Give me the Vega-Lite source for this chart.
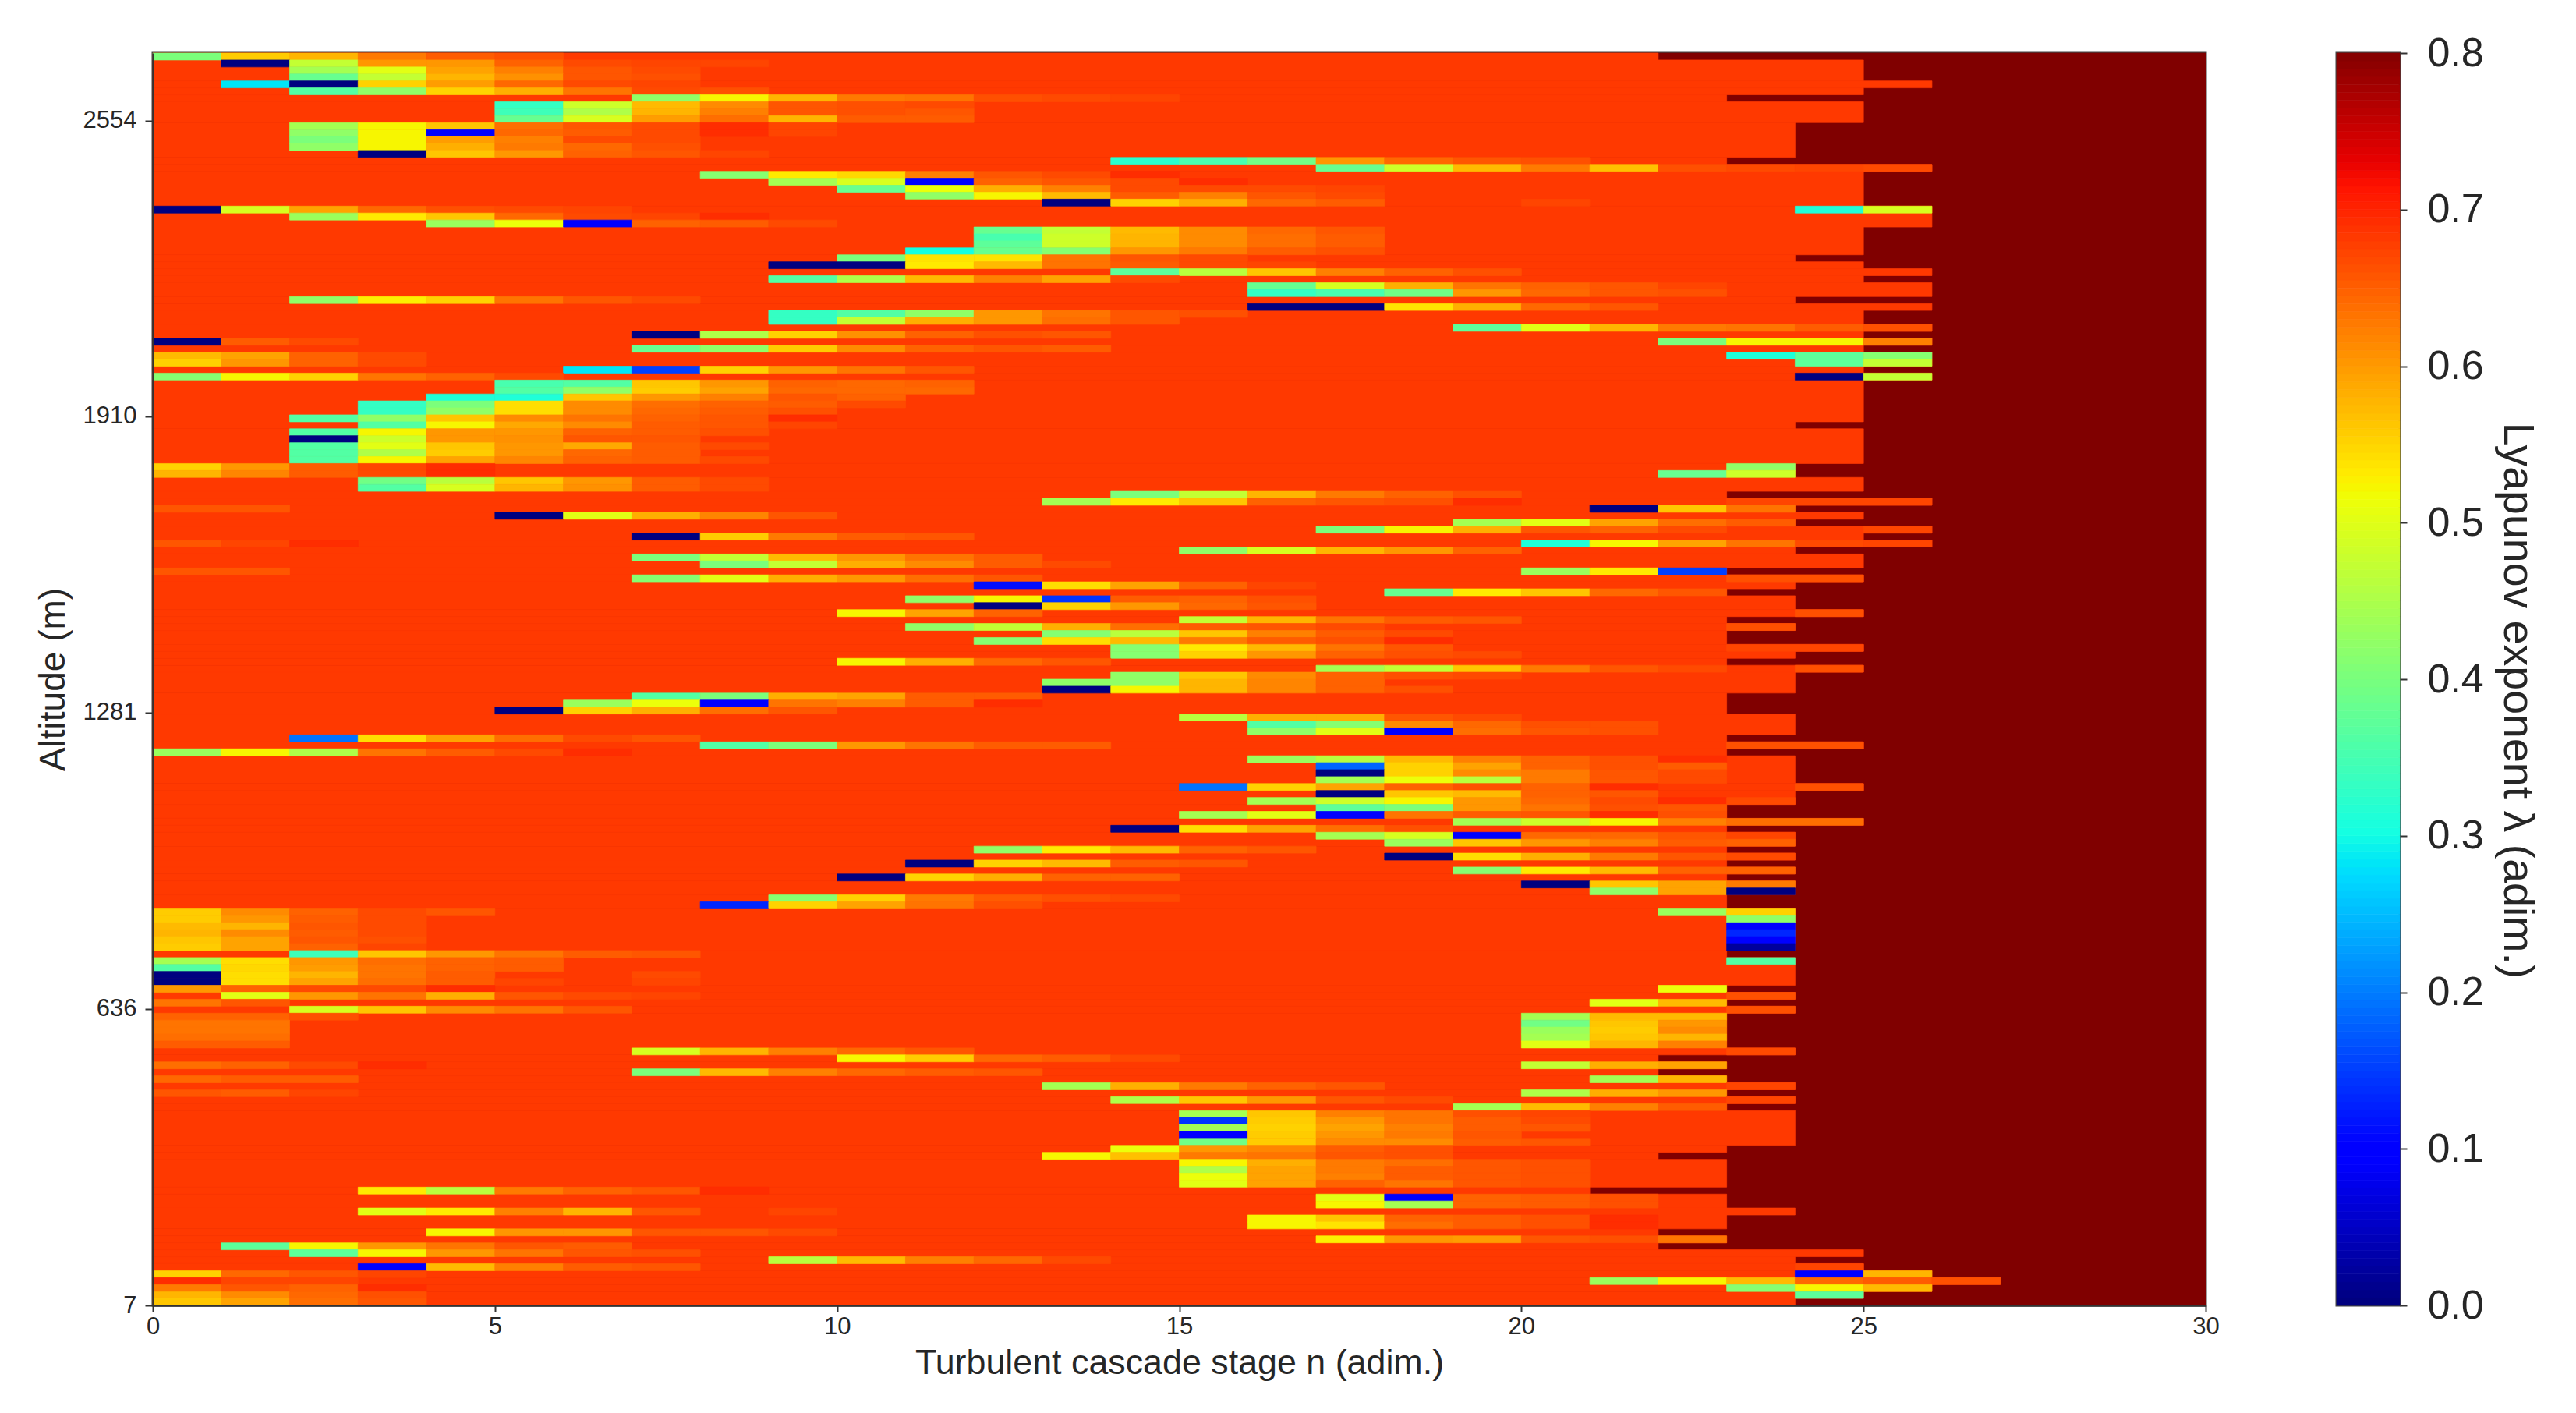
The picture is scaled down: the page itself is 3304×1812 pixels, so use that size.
{"$schema":"https://vega.github.io/schema/vega-lite/v6.json","background":"white","padding":{"left":43,"top":40,"right":0,"bottom":0},"bounds":"flush","spacing":168,"config":{"font":"Liberation Sans","view":{"stroke":"#444","strokeWidth":3},"axis":{"labelColor":"#262626","titleColor":"#262626","tickColor":"#333","domainColor":"#333","tickWidth":2,"domainWidth":2.5,"grid":false,"labelFont":"Liberation Sans","titleFont":"Liberation Sans","titleFontWeight":"normal"}},"hconcat":[{"width":2633,"height":1606,"data":{"values":[
{"l":0,"h":180,"n":0,"m":30,"v":0.8},
{"l":0,"n":0,"m":22,"v":0.68},{"l":1,"h":3,"n":0,"m":25,"v":0.68},{"l":4,"n":0,"m":26,"v":0.68},{"l":5,"n":0,"m":25,"v":0.68},{"l":6,"n":0,"m":23,"v":0.68},{"l":7,"h":3,"n":0,"m":25,"v":0.68},{"l":10,"h":5,"n":0,"m":24,"v":0.68},{"l":15,"n":0,"m":23,"v":0.68},{"l":16,"n":0,"m":26,"v":0.68},{"l":17,"h":5,"n":0,"m":25,"v":0.68},{"l":22,"h":3,"n":0,"m":26,"v":0.68},{"l":25,"h":4,"n":0,"m":25,"v":0.68},{"l":29,"n":0,"m":24,"v":0.68},{"l":30,"n":0,"m":25,"v":0.68},{"l":31,"n":0,"m":26,"v":0.68},{"l":32,"n":0,"m":25,"v":0.68},{"l":33,"h":2,"n":0,"m":26,"v":0.68},{"l":35,"n":0,"m":24,"v":0.68},{"l":36,"n":0,"m":26,"v":0.68},{"l":37,"h":2,"n":0,"m":25,"v":0.68},{"l":39,"n":0,"m":26,"v":0.68},{"l":40,"n":0,"m":25,"v":0.68},{"l":41,"n":0,"m":26,"v":0.68},{"l":42,"n":0,"m":25,"v":0.68},{"l":43,"h":2,"n":0,"m":26,"v":0.68},{"l":45,"n":0,"m":25,"v":0.68},{"l":46,"n":0,"m":26,"v":0.68},{"l":47,"h":6,"n":0,"m":25,"v":0.68},{"l":53,"n":0,"m":24,"v":0.68},{"l":54,"h":5,"n":0,"m":25,"v":0.68},{"l":59,"h":2,"n":0,"m":24,"v":0.68},{"l":61,"h":2,"n":0,"m":25,"v":0.68},{"l":63,"n":0,"m":23,"v":0.68},{"l":64,"n":0,"m":26,"v":0.68},{"l":65,"n":0,"m":24,"v":0.68},{"l":66,"n":0,"m":25,"v":0.68},{"l":67,"n":0,"m":24,"v":0.68},{"l":68,"n":0,"m":26,"v":0.68},{"l":69,"n":0,"m":25,"v":0.68},{"l":70,"n":0,"m":26,"v":0.68},{"l":71,"n":0,"m":24,"v":0.68},{"l":72,"h":2,"n":0,"m":25,"v":0.68},{"l":74,"n":0,"m":23,"v":0.68},{"l":75,"n":0,"m":25,"v":0.68},{"l":76,"n":0,"m":24,"v":0.68},{"l":77,"n":0,"m":23,"v":0.68},{"l":78,"h":2,"n":0,"m":24,"v":0.68},{"l":80,"n":0,"m":25,"v":0.68},{"l":81,"n":0,"m":23,"v":0.68},{"l":82,"n":0,"m":24,"v":0.68},{"l":83,"h":2,"n":0,"m":23,"v":0.68},{"l":85,"n":0,"m":25,"v":0.68},{"l":86,"n":0,"m":24,"v":0.68},{"l":87,"n":0,"m":23,"v":0.68},{"l":88,"n":0,"m":25,"v":0.68},{"l":89,"h":3,"n":0,"m":24,"v":0.68},{"l":92,"h":3,"n":0,"m":23,"v":0.68},{"l":95,"h":3,"n":0,"m":24,"v":0.68},{"l":98,"n":0,"m":23,"v":0.68},{"l":99,"n":0,"m":25,"v":0.68},{"l":100,"n":0,"m":23,"v":0.68},{"l":101,"h":4,"n":0,"m":24,"v":0.68},{"l":105,"n":0,"m":25,"v":0.68},{"l":106,"h":2,"n":0,"m":24,"v":0.68},{"l":108,"h":2,"n":0,"m":23,"v":0.68},{"l":110,"n":0,"m":25,"v":0.68},{"l":111,"n":0,"m":23,"v":0.68},{"l":112,"h":2,"n":0,"m":24,"v":0.68},{"l":114,"n":0,"m":23,"v":0.68},{"l":115,"n":0,"m":24,"v":0.68},{"l":116,"n":0,"m":23,"v":0.68},{"l":117,"n":0,"m":24,"v":0.68},{"l":118,"n":0,"m":23,"v":0.68},{"l":119,"h":2,"n":0,"m":24,"v":0.68},{"l":121,"h":2,"n":0,"m":23,"v":0.68},{"l":123,"h":6,"n":0,"m":24,"v":0.68},{"l":129,"n":0,"m":23,"v":0.68},{"l":130,"h":4,"n":0,"m":24,"v":0.68},{"l":134,"n":0,"m":23,"v":0.68},{"l":135,"n":0,"m":24,"v":0.68},{"l":136,"n":0,"m":23,"v":0.68},{"l":137,"n":0,"m":24,"v":0.68},{"l":138,"h":5,"n":0,"m":23,"v":0.68},{"l":143,"n":0,"m":24,"v":0.68},{"l":144,"n":0,"m":22,"v":0.68},{"l":145,"n":0,"m":23,"v":0.68},{"l":146,"n":0,"m":22,"v":0.68},{"l":147,"n":0,"m":23,"v":0.68},{"l":148,"n":0,"m":24,"v":0.68},{"l":149,"n":0,"m":23,"v":0.68},{"l":150,"n":0,"m":24,"v":0.68},{"l":151,"n":0,"m":23,"v":0.68},{"l":152,"h":5,"n":0,"m":24,"v":0.68},{"l":157,"n":0,"m":23,"v":0.68},{"l":158,"n":0,"m":22,"v":0.68},{"l":159,"h":4,"n":0,"m":23,"v":0.68},{"l":163,"n":0,"m":21,"v":0.68},{"l":164,"h":2,"n":0,"m":23,"v":0.68},{"l":166,"n":0,"m":24,"v":0.68},{"l":167,"h":2,"n":0,"m":23,"v":0.68},{"l":169,"n":0,"m":22,"v":0.68},{"l":170,"n":0,"m":23,"v":0.68},{"l":171,"n":0,"m":22,"v":0.68},{"l":172,"n":0,"m":25,"v":0.68},{"l":173,"n":0,"m":24,"v":0.68},{"l":174,"n":0,"m":25,"v":0.68},{"l":175,"n":0,"m":26,"v":0.68},{"l":176,"n":0,"m":27,"v":0.68},{"l":177,"n":0,"m":26,"v":0.68},{"l":178,"n":0,"m":25,"v":0.68},{"l":179,"n":0,"m":24,"v":0.68},
{"l":0,"n":0,"v":0.4},{"l":0,"n":1,"v":0.555},{"l":0,"n":2,"v":0.575},{"l":0,"n":3,"v":0.625},{"l":0,"n":4,"v":0.65},{"l":0,"n":5,"v":0.66},
{"l":1,"n":1,"v":0},{"l":1,"n":2,"v":0.47},{"l":1,"n":3,"v":0.6},{"l":1,"n":4,"v":0.6},{"l":1,"n":5,"v":0.645},{"l":1,"n":6,"v":0.665},{"l":1,"n":7,"v":0.67},{"l":1,"n":8,"v":0.67},
{"l":2,"n":2,"v":0.44},{"l":2,"n":3,"v":0.5},{"l":2,"n":4,"v":0.59},{"l":2,"n":5,"v":0.62},{"l":2,"n":6,"v":0.655},{"l":2,"n":7,"v":0.665},
{"l":3,"n":2,"v":0.38},{"l":3,"n":3,"v":0.47},{"l":3,"n":4,"v":0.575},{"l":3,"n":5,"v":0.605},{"l":3,"n":6,"v":0.655},{"l":3,"n":7,"v":0.66},
{"l":4,"n":1,"v":0.28},{"l":4,"n":2,"v":0},{"l":4,"n":3,"v":0.55},{"l":4,"n":4,"v":0.595},{"l":4,"n":5,"v":0.64},{"l":4,"n":6,"v":0.665},{"l":4,"n":7,"v":0.67},
{"l":5,"n":2,"v":0.36},{"l":5,"n":3,"v":0.42},{"l":5,"n":4,"v":0.55},{"l":5,"n":5,"v":0.58},{"l":5,"n":6,"v":0.63},{"l":5,"n":7,"v":0.665},{"l":5,"n":8,"v":0.66},
{"l":6,"n":7,"v":0.42},{"l":6,"n":8,"v":0.52},{"l":6,"n":9,"v":0.575},{"l":6,"n":10,"v":0.625},{"l":6,"n":11,"v":0.63},{"l":6,"n":12,"v":0.66},{"l":6,"n":13,"v":0.665},{"l":6,"n":14,"v":0.67},
{"l":7,"n":5,"v":0.33},{"l":7,"n":6,"v":0.48},{"l":7,"n":7,"v":0.57},{"l":7,"n":8,"v":0.61},{"l":7,"n":9,"v":0.655},{"l":7,"n":10,"v":0.66},{"l":7,"n":11,"v":0.665},
{"l":8,"n":5,"v":0.34},{"l":8,"n":6,"v":0.45},{"l":8,"n":7,"v":0.575},{"l":8,"n":8,"v":0.62},{"l":8,"n":9,"v":0.655},{"l":8,"n":10,"v":0.66},{"l":8,"n":11,"v":0.655},
{"l":9,"n":5,"v":0.38},{"l":9,"n":6,"v":0.49},{"l":9,"n":7,"v":0.595},{"l":9,"n":8,"v":0.635},{"l":9,"n":9,"v":0.575},{"l":9,"n":10,"v":0.65},{"l":9,"n":11,"v":0.65},
{"l":10,"n":2,"v":0.44},{"l":10,"n":3,"v":0.52},{"l":10,"n":4,"v":0.56},{"l":10,"n":5,"v":0.635},{"l":10,"n":6,"v":0.655},{"l":10,"n":7,"v":0.665},{"l":10,"n":8,"v":0.69},{"l":10,"n":9,"v":0.67},
{"l":11,"n":2,"v":0.42},{"l":11,"n":3,"v":0.52},{"l":11,"n":4,"v":0.09},{"l":11,"n":5,"v":0.64},{"l":11,"n":6,"v":0.65},{"l":11,"n":7,"v":0.665},{"l":11,"n":8,"v":0.69},{"l":11,"n":9,"v":0.67},
{"l":12,"n":2,"v":0.4},{"l":12,"n":3,"v":0.52},{"l":12,"n":4,"v":0.595},{"l":12,"n":5,"v":0.62},{"l":12,"n":6,"v":0.665},{"l":12,"n":7,"v":0.665},
{"l":13,"n":2,"v":0.42},{"l":13,"n":3,"v":0.52},{"l":13,"n":4,"v":0.58},{"l":13,"n":5,"v":0.625},{"l":13,"n":6,"v":0.64},{"l":13,"n":7,"v":0.66},
{"l":14,"n":3,"v":0},{"l":14,"n":4,"v":0.56},{"l":14,"n":5,"v":0.6},{"l":14,"n":6,"v":0.645},{"l":14,"n":7,"v":0.655},{"l":14,"n":8,"v":0.67},
{"l":15,"n":14,"v":0.32},{"l":15,"n":15,"v":0.35},{"l":15,"n":16,"v":0.39},{"l":15,"n":17,"v":0.6},{"l":15,"n":18,"v":0.64},{"l":15,"n":19,"v":0.655},{"l":15,"n":20,"v":0.66},
{"l":16,"n":17,"v":0.38},{"l":16,"n":18,"v":0.48},{"l":16,"n":19,"v":0.57},{"l":16,"n":20,"v":0.625},{"l":16,"n":21,"v":0.565},{"l":16,"n":22,"v":0.66},{"l":16,"n":23,"v":0.665},{"l":16,"n":24,"v":0.67},{"l":16,"n":25,"v":0.665},
{"l":17,"n":8,"v":0.41},{"l":17,"n":9,"v":0.53},{"l":17,"n":10,"v":0.545},{"l":17,"n":11,"v":0.62},{"l":17,"n":12,"v":0.655},{"l":17,"n":13,"v":0.665},{"l":17,"n":14,"v":0.69},
{"l":18,"n":9,"v":0.44},{"l":18,"n":10,"v":0.49},{"l":18,"n":11,"v":0.09},{"l":18,"n":12,"v":0.645},{"l":18,"n":13,"v":0.655},{"l":18,"n":14,"v":0.665},{"l":18,"n":15,"v":0.69},
{"l":19,"n":10,"v":0.38},{"l":19,"n":11,"v":0.51},{"l":19,"n":12,"v":0.58},{"l":19,"n":13,"v":0.62},{"l":19,"n":14,"v":0.665},{"l":19,"n":15,"v":0.665},{"l":19,"n":16,"v":0.665},{"l":19,"n":17,"v":0.67},
{"l":20,"n":11,"v":0.42},{"l":20,"n":12,"v":0.52},{"l":20,"n":13,"v":0.57},{"l":20,"n":14,"v":0.65},{"l":20,"n":15,"v":0.62},{"l":20,"n":16,"v":0.655},{"l":20,"n":17,"v":0.665},
{"l":21,"n":13,"v":0},{"l":21,"n":14,"v":0.55},{"l":21,"n":15,"v":0.58},{"l":21,"n":16,"v":0.64},{"l":21,"n":17,"v":0.65},{"l":21,"n":20,"v":0.67},
{"l":22,"n":0,"v":0},{"l":22,"n":1,"v":0.49},{"l":22,"n":2,"v":0.59},{"l":22,"n":3,"v":0.64},{"l":22,"n":4,"v":0.66},{"l":22,"n":5,"v":0.665},{"l":22,"n":6,"v":0.67},{"l":22,"n":24,"v":0.31},{"l":22,"n":25,"v":0.49},
{"l":23,"n":2,"v":0.43},{"l":23,"n":3,"v":0.53},{"l":23,"n":4,"v":0.56},{"l":23,"n":5,"v":0.64},{"l":23,"n":6,"v":0.665},{"l":23,"n":7,"v":0.67},{"l":23,"n":8,"v":0.69},
{"l":24,"n":4,"v":0.43},{"l":24,"n":5,"v":0.51},{"l":24,"n":6,"v":0.09},{"l":24,"n":7,"v":0.645},{"l":24,"n":8,"v":0.65},{"l":24,"n":9,"v":0.665},
{"l":25,"n":12,"v":0.38},{"l":25,"n":13,"v":0.47},{"l":25,"n":14,"v":0.57},{"l":25,"n":15,"v":0.61},{"l":25,"n":16,"v":0.64},{"l":25,"n":17,"v":0.655},
{"l":26,"n":12,"v":0.35},{"l":26,"n":13,"v":0.48},{"l":26,"n":14,"v":0.575},{"l":26,"n":15,"v":0.61},{"l":26,"n":16,"v":0.635},{"l":26,"n":17,"v":0.65},
{"l":27,"n":12,"v":0.37},{"l":27,"n":13,"v":0.48},{"l":27,"n":14,"v":0.575},{"l":27,"n":15,"v":0.61},{"l":27,"n":16,"v":0.635},{"l":27,"n":17,"v":0.65},
{"l":28,"n":11,"v":0.3},{"l":28,"n":12,"v":0.38},{"l":28,"n":13,"v":0.41},{"l":28,"n":14,"v":0.6},{"l":28,"n":15,"v":0.625},{"l":28,"n":16,"v":0.65},{"l":28,"n":17,"v":0.66},
{"l":29,"n":10,"v":0.4},{"l":29,"n":11,"v":0.535},{"l":29,"n":12,"v":0.535},{"l":29,"n":13,"v":0.63},{"l":29,"n":14,"v":0.655},{"l":29,"n":15,"v":0.665},
{"l":30,"n":9,"m":11,"v":0},{"l":30,"n":11,"v":0.53},{"l":30,"n":12,"v":0.57},{"l":30,"n":13,"v":0.63},{"l":30,"n":14,"v":0.65},{"l":30,"n":15,"v":0.665},{"l":30,"n":16,"v":0.67},
{"l":31,"n":14,"v":0.37},{"l":31,"n":15,"v":0.46},{"l":31,"n":16,"v":0.56},{"l":31,"n":17,"v":0.62},{"l":31,"n":18,"v":0.645},{"l":31,"n":19,"v":0.66},
{"l":32,"n":9,"v":0.36},{"l":32,"n":10,"v":0.45},{"l":32,"n":11,"v":0.57},{"l":32,"n":12,"v":0.62},{"l":32,"n":13,"v":0.59},{"l":32,"n":14,"v":0.665},
{"l":33,"n":16,"v":0.38},{"l":33,"n":17,"v":0.49},{"l":33,"n":18,"v":0.58},{"l":33,"n":19,"v":0.63},{"l":33,"n":20,"v":0.645},{"l":33,"n":21,"v":0.655},{"l":33,"n":22,"v":0.67},
{"l":34,"n":16,"v":0.33},{"l":34,"n":17,"v":0.35},{"l":34,"n":18,"v":0.39},{"l":34,"n":19,"v":0.6},{"l":34,"n":20,"v":0.64},{"l":34,"n":21,"v":0.655},{"l":34,"n":22,"v":0.66},
{"l":35,"n":2,"v":0.42},{"l":35,"n":3,"v":0.525},{"l":35,"n":4,"v":0.55},{"l":35,"n":5,"v":0.63},{"l":35,"n":6,"v":0.655},{"l":35,"n":7,"v":0.665},
{"l":36,"n":16,"m":18,"v":0},{"l":36,"n":18,"v":0.535},{"l":36,"n":19,"v":0.58},{"l":36,"n":20,"v":0.64},{"l":36,"n":21,"v":0.655},
{"l":37,"n":9,"v":0.33},{"l":37,"n":10,"v":0.36},{"l":37,"n":11,"v":0.42},{"l":37,"n":12,"v":0.6},{"l":37,"n":13,"v":0.63},{"l":37,"n":14,"v":0.655},{"l":37,"n":15,"v":0.66},
{"l":38,"n":9,"v":0.33},{"l":38,"n":10,"v":0.47},{"l":38,"n":11,"v":0.58},{"l":38,"n":12,"v":0.6},{"l":38,"n":13,"v":0.635},{"l":38,"n":14,"v":0.655},
{"l":39,"n":19,"v":0.37},{"l":39,"n":20,"v":0.5},{"l":39,"n":21,"v":0.575},{"l":39,"n":22,"v":0.625},{"l":39,"n":23,"v":0.63},{"l":39,"n":24,"v":0.65},{"l":39,"n":25,"v":0.66},
{"l":40,"n":7,"v":0},{"l":40,"n":8,"v":0.45},{"l":40,"n":9,"v":0.55},{"l":40,"n":10,"v":0.605},{"l":40,"n":11,"v":0.645},{"l":40,"n":12,"v":0.66},{"l":40,"n":13,"v":0.655},
{"l":41,"n":0,"v":0},{"l":41,"n":1,"v":0.65},{"l":41,"n":2,"v":0.665},{"l":41,"n":22,"v":0.4},{"l":41,"n":23,"m":25,"v":0.52},{"l":41,"n":25,"v":0.62},
{"l":42,"n":7,"v":0.38},{"l":42,"n":8,"v":0.42},{"l":42,"n":9,"v":0.555},{"l":42,"n":10,"v":0.61},{"l":42,"n":11,"v":0.645},{"l":42,"n":12,"v":0.655},{"l":42,"n":13,"v":0.65},
{"l":43,"n":0,"v":0.57},{"l":43,"n":1,"v":0.59},{"l":43,"n":2,"v":0.645},{"l":43,"n":3,"v":0.665},{"l":43,"n":23,"v":0.31},{"l":43,"n":24,"v":0.37},{"l":43,"n":25,"v":0.41},
{"l":44,"n":0,"v":0.55},{"l":44,"n":1,"v":0.6},{"l":44,"n":2,"v":0.645},{"l":44,"n":3,"v":0.665},{"l":44,"n":24,"v":0.37},{"l":44,"n":25,"v":0.47},
{"l":45,"n":6,"v":0.28},{"l":45,"n":7,"v":0.15},{"l":45,"n":8,"v":0.55},{"l":45,"n":9,"v":0.6},{"l":45,"n":10,"v":0.63},{"l":45,"n":11,"v":0.655},
{"l":46,"n":0,"v":0.41},{"l":46,"n":1,"v":0.52},{"l":46,"n":2,"v":0.55},{"l":46,"n":3,"v":0.63},{"l":46,"n":4,"v":0.645},{"l":46,"n":5,"v":0.665},{"l":46,"n":24,"v":0},{"l":46,"n":25,"v":0.47},
{"l":47,"n":5,"v":0.35},{"l":47,"n":6,"v":0.36},{"l":47,"n":7,"v":0.56},{"l":47,"n":8,"v":0.6},{"l":47,"n":9,"v":0.645},{"l":47,"n":10,"v":0.64},{"l":47,"n":11,"v":0.645},
{"l":48,"n":5,"v":0.36},{"l":48,"n":6,"v":0.42},{"l":48,"n":7,"v":0.555},{"l":48,"n":8,"v":0.59},{"l":48,"n":9,"v":0.64},{"l":48,"n":10,"v":0.64},{"l":48,"n":11,"v":0.64},
{"l":49,"n":4,"v":0.31},{"l":49,"n":5,"v":0.31},{"l":49,"n":6,"v":0.56},{"l":49,"n":7,"v":0.6},{"l":49,"n":8,"v":0.62},{"l":49,"n":9,"v":0.655},{"l":49,"n":10,"v":0.645},
{"l":50,"n":3,"v":0.33},{"l":50,"n":4,"v":0.4},{"l":50,"n":5,"v":0.54},{"l":50,"n":6,"v":0.61},{"l":50,"n":7,"v":0.635},{"l":50,"n":8,"v":0.645},{"l":50,"n":9,"v":0.65},{"l":50,"n":10,"v":0.665},
{"l":51,"n":3,"v":0.33},{"l":51,"n":4,"v":0.42},{"l":51,"n":5,"v":0.54},{"l":51,"n":6,"v":0.61},{"l":51,"n":7,"v":0.64},{"l":51,"n":8,"v":0.65},{"l":51,"n":9,"v":0.66},
{"l":52,"n":2,"v":0.36},{"l":52,"n":3,"v":0.42},{"l":52,"n":4,"v":0.56},{"l":52,"n":5,"v":0.61},{"l":52,"n":6,"v":0.63},{"l":52,"n":7,"v":0.645},{"l":52,"n":8,"v":0.655},{"l":52,"n":9,"v":0.69},
{"l":53,"n":3,"v":0.36},{"l":53,"n":4,"v":0.52},{"l":53,"n":5,"v":0.585},{"l":53,"n":6,"v":0.61},{"l":53,"n":7,"v":0.65},{"l":53,"n":8,"v":0.655},{"l":53,"n":9,"v":0.67},
{"l":54,"n":2,"v":0.36},{"l":54,"n":3,"v":0.52},{"l":54,"n":4,"v":0.6},{"l":54,"n":5,"v":0.6},{"l":54,"n":6,"v":0.645},{"l":54,"n":7,"v":0.65},{"l":54,"n":8,"v":0.66},
{"l":55,"n":2,"v":0},{"l":55,"n":3,"v":0.48},{"l":55,"n":4,"v":0.6},{"l":55,"n":5,"v":0.605},{"l":55,"n":6,"v":0.655},{"l":55,"n":7,"v":0.655},
{"l":56,"n":2,"v":0.36},{"l":56,"n":3,"v":0.5},{"l":56,"n":4,"v":0.56},{"l":56,"n":5,"v":0.6},{"l":56,"n":6,"v":0.585},{"l":56,"n":7,"v":0.65},{"l":56,"n":8,"v":0.665},
{"l":57,"n":2,"v":0.36},{"l":57,"n":3,"v":0.45},{"l":57,"n":4,"v":0.555},{"l":57,"n":5,"v":0.6},{"l":57,"n":6,"v":0.64},{"l":57,"n":7,"v":0.65},
{"l":58,"n":2,"v":0.36},{"l":58,"n":3,"v":0.52},{"l":58,"n":4,"v":0.59},{"l":58,"n":5,"v":0.615},{"l":58,"n":6,"v":0.645},{"l":58,"n":7,"v":0.65},{"l":58,"n":8,"v":0.665},
{"l":59,"n":0,"v":0.55},{"l":59,"n":1,"v":0.6},{"l":59,"n":2,"v":0.65},{"l":59,"n":3,"v":0.67},{"l":59,"n":4,"v":0.69},{"l":59,"n":23,"v":0.42},
{"l":60,"n":0,"v":0.575},{"l":60,"n":1,"v":0.615},{"l":60,"n":2,"v":0.65},{"l":60,"n":3,"v":0.665},{"l":60,"n":4,"v":0.69},{"l":60,"n":22,"v":0.38},{"l":60,"n":23,"v":0.48},
{"l":61,"n":3,"v":0.39},{"l":61,"n":4,"v":0.46},{"l":61,"n":5,"v":0.56},{"l":61,"n":6,"v":0.6},{"l":61,"n":7,"v":0.65},{"l":61,"n":8,"v":0.665},
{"l":62,"n":3,"v":0.36},{"l":62,"n":4,"v":0.49},{"l":62,"n":5,"v":0.575},{"l":62,"n":6,"v":0.605},{"l":62,"n":7,"v":0.65},{"l":62,"n":8,"v":0.665},
{"l":63,"n":14,"v":0.4},{"l":63,"n":15,"v":0.47},{"l":63,"n":16,"v":0.575},{"l":63,"n":17,"v":0.625},{"l":63,"n":18,"v":0.645},{"l":63,"n":19,"v":0.66},
{"l":64,"n":13,"v":0.44},{"l":64,"n":14,"v":0.53},{"l":64,"n":15,"v":0.56},{"l":64,"n":16,"v":0.645},{"l":64,"n":17,"v":0.655},{"l":64,"n":18,"v":0.66},{"l":64,"n":19,"v":0.69},{"l":64,"n":23,"m":26,"v":0.67},
{"l":65,"n":0,"m":2,"v":0.655},{"l":65,"n":21,"v":0},{"l":65,"n":22,"v":0.56},{"l":65,"n":23,"v":0.63},
{"l":66,"n":5,"v":0},{"l":66,"n":6,"v":0.5},{"l":66,"n":7,"v":0.58},{"l":66,"n":8,"v":0.615},{"l":66,"n":9,"v":0.655},
{"l":67,"n":19,"v":0.44},{"l":67,"n":20,"v":0.5},{"l":67,"n":21,"v":0.59},{"l":67,"n":22,"v":0.635},{"l":67,"n":23,"v":0.65},
{"l":68,"n":17,"v":0.4},{"l":68,"n":18,"v":0.52},{"l":68,"n":19,"v":0.58},{"l":68,"n":20,"v":0.655},{"l":68,"n":21,"v":0.645},{"l":68,"n":22,"v":0.665},{"l":68,"n":25,"v":0.67},
{"l":69,"n":7,"v":0},{"l":69,"n":8,"v":0.555},{"l":69,"n":9,"v":0.625},{"l":69,"n":10,"v":0.65},{"l":69,"n":11,"v":0.655},
{"l":70,"n":0,"v":0.655},{"l":70,"n":1,"v":0.67},{"l":70,"n":2,"v":0.69},{"l":70,"n":20,"v":0.31},{"l":70,"n":21,"v":0.52},{"l":70,"n":22,"v":0.59},{"l":70,"n":23,"v":0.63},{"l":70,"n":24,"v":0.665},{"l":70,"n":25,"v":0.67},
{"l":71,"n":15,"v":0.42},{"l":71,"n":16,"v":0.49},{"l":71,"n":17,"v":0.575},{"l":71,"n":18,"v":0.6},{"l":71,"n":19,"v":0.645},
{"l":72,"n":7,"v":0.4},{"l":72,"n":8,"v":0.47},{"l":72,"n":9,"v":0.57},{"l":72,"n":10,"v":0.6},{"l":72,"n":11,"v":0.63},{"l":72,"n":12,"v":0.65},
{"l":73,"n":8,"v":0.4},{"l":73,"n":9,"v":0.47},{"l":73,"n":10,"v":0.58},{"l":73,"n":11,"v":0.61},{"l":73,"n":12,"v":0.65},{"l":73,"n":13,"v":0.665},
{"l":74,"n":0,"m":2,"v":0.655},{"l":74,"n":20,"v":0.43},{"l":74,"n":21,"v":0.53},{"l":74,"n":22,"v":0.15},
{"l":75,"n":7,"v":0.41},{"l":75,"n":8,"v":0.5},{"l":75,"n":9,"v":0.58},{"l":75,"n":10,"v":0.6},{"l":75,"n":11,"v":0.635},{"l":75,"n":12,"v":0.655},{"l":75,"n":23,"m":25,"v":0.66},
{"l":76,"n":12,"v":0.11},{"l":76,"n":13,"v":0.54},{"l":76,"n":14,"v":0.59},{"l":76,"n":15,"v":0.645},{"l":76,"n":16,"v":0.67},
{"l":77,"n":18,"v":0.38},{"l":77,"n":19,"v":0.53},{"l":77,"n":20,"v":0.56},{"l":77,"n":21,"v":0.64},{"l":77,"n":22,"v":0.655},
{"l":78,"n":11,"v":0.42},{"l":78,"n":12,"v":0.52},{"l":78,"n":13,"v":0.14},{"l":78,"n":14,"v":0.65},{"l":78,"n":15,"v":0.645},{"l":78,"n":16,"v":0.66},
{"l":79,"n":12,"v":0},{"l":79,"n":13,"v":0.55},{"l":79,"n":14,"v":0.6},{"l":79,"n":15,"v":0.64},{"l":79,"n":16,"v":0.655},
{"l":80,"n":10,"v":0.52},{"l":80,"n":11,"v":0.59},{"l":80,"n":12,"v":0.645},{"l":80,"n":24,"v":0.66},
{"l":81,"n":15,"v":0.47},{"l":81,"n":16,"v":0.575},{"l":81,"n":17,"v":0.63},{"l":81,"n":18,"v":0.65},{"l":81,"n":19,"v":0.655},
{"l":82,"n":11,"v":0.42},{"l":82,"n":12,"v":0.47},{"l":82,"n":13,"v":0.58},{"l":82,"n":14,"v":0.635},{"l":82,"n":15,"v":0.65},{"l":82,"n":16,"v":0.655},{"l":82,"n":17,"v":0.665},{"l":82,"n":23,"v":0.66},
{"l":83,"n":13,"v":0.41},{"l":83,"n":14,"v":0.46},{"l":83,"n":15,"v":0.56},{"l":83,"n":16,"v":0.62},{"l":83,"n":17,"v":0.65},{"l":83,"n":18,"v":0.665},
{"l":84,"n":12,"v":0.41},{"l":84,"n":13,"v":0.54},{"l":84,"n":14,"v":0.57},{"l":84,"n":15,"v":0.625},{"l":84,"n":16,"v":0.65},{"l":84,"n":17,"v":0.66},{"l":84,"n":18,"v":0.69},
{"l":85,"n":14,"v":0.41},{"l":85,"n":15,"v":0.53},{"l":85,"n":16,"v":0.57},{"l":85,"n":17,"v":0.63},{"l":85,"n":18,"v":0.655},{"l":85,"n":23,"m":25,"v":0.67},
{"l":86,"n":14,"v":0.41},{"l":86,"n":15,"v":0.55},{"l":86,"n":16,"v":0.6},{"l":86,"n":17,"v":0.645},{"l":86,"n":18,"v":0.66},{"l":86,"n":19,"v":0.665},
{"l":87,"n":10,"v":0.52},{"l":87,"n":11,"v":0.58},{"l":87,"n":12,"v":0.64},{"l":87,"n":13,"v":0.655},
{"l":88,"n":17,"v":0.44},{"l":88,"n":18,"v":0.47},{"l":88,"n":19,"v":0.56},{"l":88,"n":20,"v":0.625},{"l":88,"n":21,"v":0.655},{"l":88,"n":22,"v":0.665},{"l":88,"n":24,"v":0.66},
{"l":89,"n":14,"v":0.42},{"l":89,"n":15,"v":0.56},{"l":89,"n":16,"v":0.61},{"l":89,"n":17,"v":0.645},{"l":89,"n":18,"v":0.66},{"l":89,"n":19,"v":0.665},
{"l":90,"n":13,"m":15,"v":0.42},{"l":90,"n":15,"v":0.575},{"l":90,"n":16,"v":0.615},{"l":90,"n":17,"v":0.645},
{"l":91,"n":13,"v":0},{"l":91,"n":14,"v":0.52},{"l":91,"n":15,"v":0.575},{"l":91,"n":16,"v":0.615},{"l":91,"n":17,"v":0.645},{"l":91,"n":18,"v":0.66},
{"l":92,"n":7,"v":0.36},{"l":92,"n":8,"v":0.4},{"l":92,"n":9,"v":0.58},{"l":92,"n":10,"v":0.59},{"l":92,"n":11,"v":0.65},{"l":92,"n":12,"v":0.65},
{"l":93,"n":6,"v":0.43},{"l":93,"n":7,"v":0.51},{"l":93,"n":8,"v":0.09},{"l":93,"n":9,"v":0.63},{"l":93,"n":10,"v":0.62},{"l":93,"n":11,"v":0.65},{"l":93,"n":12,"v":0.69},
{"l":94,"n":5,"v":0},{"l":94,"n":6,"v":0.55},{"l":94,"n":7,"v":0.58},{"l":94,"n":8,"v":0.635},{"l":94,"n":9,"v":0.655},
{"l":95,"n":15,"v":0.46},{"l":95,"n":16,"v":0.58},{"l":95,"n":17,"v":0.58},{"l":95,"n":18,"v":0.655},{"l":95,"n":19,"v":0.665},
{"l":96,"n":16,"v":0.36},{"l":96,"n":17,"v":0.41},{"l":96,"n":18,"v":0.61},{"l":96,"n":19,"v":0.64},{"l":96,"n":20,"v":0.66},{"l":96,"n":21,"v":0.66},
{"l":97,"n":16,"v":0.42},{"l":97,"n":17,"v":0.5},{"l":97,"n":18,"v":0.09},{"l":97,"n":19,"v":0.635},{"l":97,"n":20,"v":0.655},{"l":97,"n":21,"v":0.66},
{"l":98,"n":2,"v":0.19},{"l":98,"n":3,"v":0.54},{"l":98,"n":4,"v":0.59},{"l":98,"n":5,"v":0.635},{"l":98,"n":6,"v":0.665},{"l":98,"n":7,"v":0.655},
{"l":99,"n":8,"v":0.36},{"l":99,"n":9,"v":0.4},{"l":99,"n":10,"v":0.6},{"l":99,"n":11,"v":0.63},{"l":99,"n":12,"v":0.65},{"l":99,"n":13,"v":0.65},{"l":99,"n":23,"m":25,"v":0.66},
{"l":100,"n":0,"v":0.43},{"l":100,"n":1,"v":0.52},{"l":100,"n":2,"v":0.45},{"l":100,"n":3,"v":0.63},{"l":100,"n":4,"v":0.65},{"l":100,"n":5,"v":0.665},{"l":100,"n":6,"v":0.69},
{"l":101,"n":16,"v":0.43},{"l":101,"n":17,"v":0.46},{"l":101,"n":18,"v":0.57},{"l":101,"n":19,"v":0.62},{"l":101,"n":20,"v":0.645},{"l":101,"n":21,"v":0.66},{"l":101,"n":22,"v":0.69},
{"l":102,"n":17,"v":0.18},{"l":102,"n":18,"v":0.55},{"l":102,"n":19,"v":0.59},{"l":102,"n":20,"v":0.645},{"l":102,"n":21,"v":0.66},{"l":102,"n":22,"v":0.65},
{"l":103,"n":17,"v":0},{"l":103,"n":18,"v":0.55},{"l":103,"n":19,"v":0.61},{"l":103,"n":20,"v":0.625},{"l":103,"n":21,"v":0.655},{"l":103,"n":22,"v":0.665},
{"l":104,"n":17,"v":0.44},{"l":104,"n":18,"v":0.51},{"l":104,"n":19,"v":0.46},{"l":104,"n":20,"v":0.625},{"l":104,"n":21,"v":0.655},{"l":104,"n":22,"v":0.665},
{"l":105,"n":15,"v":0.19},{"l":105,"n":16,"v":0.55},{"l":105,"n":17,"v":0.59},{"l":105,"n":18,"v":0.645},{"l":105,"n":19,"v":0.66},{"l":105,"n":20,"v":0.645},{"l":105,"n":21,"v":0.69},{"l":105,"n":24,"v":0.66},
{"l":106,"n":17,"v":0},{"l":106,"n":18,"v":0.56},{"l":106,"n":19,"v":0.57},{"l":106,"n":20,"v":0.645},{"l":106,"n":21,"v":0.655},
{"l":107,"n":16,"v":0.44},{"l":107,"n":17,"v":0.48},{"l":107,"n":18,"v":0.52},{"l":107,"n":19,"v":0.6},{"l":107,"n":20,"v":0.64},{"l":107,"n":21,"v":0.665},{"l":107,"n":22,"v":0.69},{"l":107,"n":23,"v":0.665},
{"l":108,"n":17,"v":0.37},{"l":108,"n":18,"v":0.4},{"l":108,"n":19,"v":0.6},{"l":108,"n":20,"v":0.63},{"l":108,"n":21,"v":0.66},{"l":108,"n":22,"v":0.655},
{"l":109,"n":15,"v":0.44},{"l":109,"n":16,"v":0.5},{"l":109,"n":17,"v":0.1},{"l":109,"n":18,"v":0.63},{"l":109,"n":19,"v":0.65},{"l":109,"n":20,"v":0.655},{"l":109,"n":21,"v":0.69},{"l":109,"n":22,"v":0.66},
{"l":110,"n":19,"v":0.44},{"l":110,"n":20,"v":0.48},{"l":110,"n":21,"v":0.52},{"l":110,"n":22,"v":0.62},{"l":110,"n":23,"m":25,"v":0.635},
{"l":111,"n":14,"v":0},{"l":111,"n":15,"v":0.54},{"l":111,"n":16,"v":0.59},{"l":111,"n":17,"v":0.635},{"l":111,"n":18,"v":0.66},
{"l":112,"n":17,"v":0.44},{"l":112,"n":18,"v":0.49},{"l":112,"n":19,"v":0.09},{"l":112,"n":20,"v":0.64},{"l":112,"n":21,"v":0.64},{"l":112,"n":22,"v":0.655},{"l":112,"n":23,"v":0.67},
{"l":113,"n":18,"v":0.43},{"l":113,"n":19,"v":0.56},{"l":113,"n":20,"v":0.6},{"l":113,"n":21,"v":0.62},{"l":113,"n":22,"v":0.65},{"l":113,"n":23,"v":0.645},
{"l":114,"n":12,"v":0.42},{"l":114,"n":13,"v":0.53},{"l":114,"n":14,"v":0.57},{"l":114,"n":15,"v":0.645},{"l":114,"n":16,"v":0.655},
{"l":115,"n":18,"v":0},{"l":115,"n":19,"v":0.54},{"l":115,"n":20,"v":0.58},{"l":115,"n":21,"v":0.625},{"l":115,"n":22,"v":0.655},{"l":115,"n":23,"v":0.665},
{"l":116,"n":11,"v":0},{"l":116,"n":12,"v":0.55},{"l":116,"n":13,"v":0.57},{"l":116,"n":14,"v":0.65},{"l":116,"n":15,"v":0.655},
{"l":117,"n":19,"v":0.41},{"l":117,"n":20,"v":0.53},{"l":117,"n":21,"v":0.57},{"l":117,"n":22,"v":0.645},{"l":117,"n":23,"v":0.645},
{"l":118,"n":10,"v":0},{"l":118,"n":11,"v":0.55},{"l":118,"n":12,"v":0.58},{"l":118,"n":13,"v":0.645},{"l":118,"n":14,"v":0.645},
{"l":119,"n":20,"v":0},{"l":119,"n":21,"v":0.56},{"l":119,"n":22,"v":0.59},{"l":119,"n":23,"v":0.625},
{"l":120,"n":21,"v":0.42},{"l":120,"n":22,"v":0.59},{"l":120,"n":23,"v":0},
{"l":121,"n":9,"v":0.41},{"l":121,"n":10,"v":0.55},{"l":121,"n":11,"v":0.625},{"l":121,"n":12,"v":0.65},{"l":121,"n":13,"v":0.66},{"l":121,"n":14,"v":0.665},
{"l":122,"n":8,"v":0.13},{"l":122,"n":9,"v":0.55},{"l":122,"n":10,"v":0.59},{"l":122,"n":11,"v":0.63},{"l":122,"n":12,"v":0.66},
{"l":123,"n":0,"v":0.555},{"l":123,"n":1,"v":0.61},{"l":123,"n":2,"v":0.645},{"l":123,"n":3,"v":0.665},{"l":123,"n":4,"v":0.655},{"l":123,"n":22,"v":0.43},{"l":123,"n":23,"v":0.55},
{"l":124,"n":0,"v":0.555},{"l":124,"n":1,"v":0.6},{"l":124,"n":2,"v":0.65},{"l":124,"n":3,"v":0.665},{"l":124,"n":23,"v":0.42},
{"l":125,"n":0,"v":0.57},{"l":125,"n":1,"v":0.575},{"l":125,"n":2,"v":0.655},{"l":125,"n":3,"v":0.665},{"l":125,"n":23,"v":0.09},
{"l":126,"n":0,"v":0.575},{"l":126,"n":1,"v":0.61},{"l":126,"n":2,"v":0.65},{"l":126,"n":3,"v":0.665},{"l":126,"n":23,"v":0.13},
{"l":127,"n":0,"v":0.56},{"l":127,"n":1,"v":0.59},{"l":127,"n":2,"v":0.655},{"l":127,"n":3,"v":0.66},{"l":127,"n":23,"v":0.09},
{"l":128,"n":0,"v":0.555},{"l":128,"n":1,"v":0.59},{"l":128,"n":2,"v":0.645},{"l":128,"n":3,"v":0.67},{"l":128,"n":23,"v":0.02},
{"l":129,"n":2,"v":0.34},{"l":129,"n":3,"v":0.56},{"l":129,"n":4,"v":0.6},{"l":129,"n":5,"v":0.63},{"l":129,"n":6,"v":0.65},{"l":129,"n":7,"v":0.655},
{"l":130,"n":0,"v":0.44},{"l":130,"n":1,"v":0.54},{"l":130,"n":2,"v":0.6},{"l":130,"n":3,"v":0.635},{"l":130,"n":4,"v":0.645},{"l":130,"n":5,"v":0.65},{"l":130,"n":23,"v":0.36},
{"l":131,"n":0,"v":0.36},{"l":131,"n":1,"v":0.545},{"l":131,"n":2,"v":0.595},{"l":131,"n":3,"v":0.63},{"l":131,"n":4,"v":0.645},{"l":131,"n":5,"v":0.65},
{"l":132,"n":0,"v":0},{"l":132,"n":1,"v":0.54},{"l":132,"n":2,"v":0.575},{"l":132,"n":3,"v":0.63},{"l":132,"n":4,"v":0.65},{"l":132,"n":7,"v":0.665},
{"l":133,"n":0,"v":0},{"l":133,"n":1,"v":0.54},{"l":133,"n":2,"v":0.59},{"l":133,"n":3,"v":0.635},{"l":133,"n":4,"v":0.65},{"l":133,"n":5,"v":0.67},{"l":133,"n":7,"v":0.67},
{"l":134,"n":0,"v":0.6},{"l":134,"n":1,"v":0.645},{"l":134,"n":2,"v":0.665},{"l":134,"n":3,"v":0.665},{"l":134,"n":4,"v":0.69},{"l":134,"n":22,"v":0.51},
{"l":135,"n":1,"v":0.5},{"l":135,"n":2,"v":0.6},{"l":135,"n":3,"v":0.63},{"l":135,"n":4,"v":0.58},{"l":135,"n":5,"v":0.655},{"l":135,"n":6,"v":0.665},{"l":135,"n":7,"v":0.67},{"l":135,"n":23,"v":0.66},
{"l":136,"n":0,"v":0.63},{"l":136,"n":1,"v":0.655},{"l":136,"n":21,"v":0.5},{"l":136,"n":22,"v":0.57},
{"l":137,"n":2,"v":0.49},{"l":137,"n":3,"v":0.56},{"l":137,"n":4,"v":0.61},{"l":137,"n":5,"v":0.63},{"l":137,"n":6,"v":0.655},{"l":137,"n":23,"v":0.66},
{"l":138,"n":0,"m":2,"v":0.645},{"l":138,"n":2,"v":0.66},{"l":138,"n":20,"v":0.44},{"l":138,"n":21,"v":0.57},{"l":138,"n":22,"v":0.57},
{"l":139,"n":0,"m":2,"v":0.63},{"l":139,"n":20,"v":0.39},{"l":139,"n":21,"v":0.56},{"l":139,"n":22,"v":0.6},
{"l":140,"n":0,"m":2,"v":0.63},{"l":140,"n":20,"v":0.43},{"l":140,"n":21,"v":0.555},{"l":140,"n":22,"v":0.61},
{"l":141,"n":0,"m":2,"v":0.635},{"l":141,"n":20,"v":0.44},{"l":141,"n":21,"v":0.56},{"l":141,"n":22,"v":0.575},
{"l":142,"n":0,"m":2,"v":0.65},{"l":142,"n":20,"v":0.5},{"l":142,"n":21,"v":0.575},{"l":142,"n":22,"v":0.62},
{"l":143,"n":7,"v":0.49},{"l":143,"n":8,"v":0.575},{"l":143,"n":9,"v":0.62},{"l":143,"n":10,"v":0.64},{"l":143,"n":11,"v":0.655},{"l":143,"n":23,"v":0.665},
{"l":144,"n":10,"v":0.52},{"l":144,"n":11,"v":0.555},{"l":144,"n":12,"v":0.64},{"l":144,"n":13,"v":0.65},{"l":144,"n":14,"v":0.665},
{"l":145,"n":0,"v":0.635},{"l":145,"n":1,"v":0.645},{"l":145,"n":2,"v":0.665},{"l":145,"n":3,"v":0.69},{"l":145,"n":20,"v":0.47},{"l":145,"n":21,"v":0.58},{"l":145,"n":22,"v":0.59},
{"l":146,"n":7,"v":0.4},{"l":146,"n":8,"v":0.57},{"l":146,"n":9,"v":0.62},{"l":146,"n":10,"v":0.64},{"l":146,"n":11,"v":0.65},{"l":146,"n":12,"v":0.655},
{"l":147,"n":0,"v":0.64},{"l":147,"n":1,"m":3,"v":0.65},{"l":147,"n":21,"v":0.44},{"l":147,"n":22,"v":0.575},
{"l":148,"n":13,"v":0.44},{"l":148,"n":14,"v":0.58},{"l":148,"n":15,"v":0.625},{"l":148,"n":16,"v":0.645},{"l":148,"n":17,"v":0.655},{"l":148,"n":23,"v":0.67},
{"l":149,"n":0,"v":0.655},{"l":149,"n":1,"v":0.65},{"l":149,"n":2,"v":0.67},{"l":149,"n":20,"v":0.45},{"l":149,"n":21,"v":0.58},{"l":149,"n":22,"v":0.6},
{"l":150,"n":14,"v":0.45},{"l":150,"n":15,"v":0.56},{"l":150,"n":16,"v":0.6},{"l":150,"n":17,"v":0.655},{"l":150,"n":18,"v":0.665},{"l":150,"n":23,"v":0.67},
{"l":151,"n":19,"v":0.44},{"l":151,"n":20,"v":0.57},{"l":151,"n":21,"v":0.62},{"l":151,"n":22,"v":0.65},
{"l":152,"n":15,"v":0.44},{"l":152,"n":16,"v":0.56},{"l":152,"n":17,"v":0.62},{"l":152,"n":18,"v":0.63},{"l":152,"n":19,"v":0.66},{"l":152,"n":20,"v":0.67},
{"l":153,"n":15,"v":0.14},{"l":153,"n":16,"v":0.555},{"l":153,"n":17,"v":0.6},{"l":153,"n":18,"v":0.63},{"l":153,"n":19,"v":0.65},{"l":153,"n":20,"v":0.665},
{"l":154,"n":15,"v":0.44},{"l":154,"n":16,"v":0.55},{"l":154,"n":17,"v":0.59},{"l":154,"n":18,"v":0.62},{"l":154,"n":19,"v":0.65},{"l":154,"n":20,"v":0.655},
{"l":155,"n":15,"v":0.09},{"l":155,"n":16,"v":0.555},{"l":155,"n":17,"v":0.6},{"l":155,"n":18,"v":0.625},{"l":155,"n":19,"v":0.655},
{"l":156,"n":15,"v":0.39},{"l":156,"n":16,"v":0.555},{"l":156,"n":17,"v":0.61},{"l":156,"n":18,"v":0.61},{"l":156,"n":19,"v":0.65},{"l":156,"n":20,"v":0.655},
{"l":157,"n":14,"v":0.51},{"l":157,"n":15,"v":0.6},{"l":157,"n":16,"v":0.615},{"l":157,"n":17,"v":0.65},{"l":157,"n":18,"v":0.66},
{"l":158,"n":13,"v":0.52},{"l":158,"n":14,"v":0.565},{"l":158,"n":15,"v":0.625},{"l":158,"n":16,"v":0.63},{"l":158,"n":17,"v":0.655},{"l":158,"n":18,"v":0.66},
{"l":159,"n":15,"v":0.52},{"l":159,"n":16,"v":0.58},{"l":159,"n":17,"v":0.625},{"l":159,"n":18,"v":0.635},{"l":159,"n":19,"v":0.655},{"l":159,"n":20,"v":0.66},
{"l":160,"n":15,"v":0.45},{"l":160,"n":16,"v":0.59},{"l":160,"n":17,"v":0.625},{"l":160,"n":18,"v":0.65},{"l":160,"n":19,"v":0.655},{"l":160,"n":20,"v":0.66},
{"l":161,"n":15,"v":0.51},{"l":161,"n":16,"v":0.59},{"l":161,"n":17,"v":0.62},{"l":161,"n":18,"v":0.65},{"l":161,"n":19,"v":0.655},{"l":161,"n":20,"v":0.66},
{"l":162,"n":15,"v":0.5},{"l":162,"n":16,"v":0.59},{"l":162,"n":17,"v":0.645},{"l":162,"n":18,"v":0.63},{"l":162,"n":19,"v":0.655},{"l":162,"n":20,"v":0.66},
{"l":163,"n":3,"v":0.53},{"l":163,"n":4,"v":0.46},{"l":163,"n":5,"v":0.625},{"l":163,"n":6,"v":0.645},{"l":163,"n":7,"v":0.655},{"l":163,"n":8,"v":0.69},
{"l":164,"n":17,"v":0.5},{"l":164,"n":18,"v":0.09},{"l":164,"n":19,"v":0.645},{"l":164,"n":20,"v":0.65},{"l":164,"n":21,"v":0.66},
{"l":165,"n":17,"v":0.52},{"l":165,"n":18,"v":0.44},{"l":165,"n":19,"v":0.645},{"l":165,"n":20,"v":0.65},{"l":165,"n":21,"v":0.66},
{"l":166,"n":3,"v":0.5},{"l":166,"n":4,"v":0.53},{"l":166,"n":5,"v":0.62},{"l":166,"n":6,"v":0.575},{"l":166,"n":7,"v":0.655},{"l":166,"n":9,"v":0.67},
{"l":167,"n":16,"v":0.52},{"l":167,"n":17,"v":0.56},{"l":167,"n":18,"v":0.645},{"l":167,"n":19,"v":0.65},{"l":167,"n":20,"v":0.66},{"l":167,"n":21,"v":0.69},
{"l":168,"n":16,"v":0.52},{"l":168,"n":17,"v":0.535},{"l":168,"n":18,"v":0.635},{"l":168,"n":19,"v":0.65},{"l":168,"n":20,"v":0.66},{"l":168,"n":21,"v":0.69},
{"l":169,"n":4,"v":0.52},{"l":169,"n":5,"v":0.6},{"l":169,"n":6,"v":0.6},{"l":169,"n":7,"v":0.655},{"l":169,"n":8,"v":0.655},{"l":169,"n":9,"v":0.665},
{"l":170,"n":17,"v":0.525},{"l":170,"n":18,"v":0.6},{"l":170,"n":19,"v":0.595},{"l":170,"n":20,"v":0.655},{"l":170,"n":21,"v":0.66},{"l":170,"n":22,"v":0.63},
{"l":171,"n":1,"v":0.37},{"l":171,"n":2,"v":0.52},{"l":171,"n":3,"v":0.6},{"l":171,"n":4,"v":0.63},{"l":171,"n":5,"v":0.655},{"l":171,"n":6,"v":0.65},
{"l":172,"n":2,"v":0.37},{"l":172,"n":3,"v":0.52},{"l":172,"n":4,"v":0.6},{"l":172,"n":5,"v":0.63},{"l":172,"n":6,"v":0.655},{"l":172,"n":7,"v":0.66},
{"l":173,"n":9,"v":0.46},{"l":173,"n":10,"v":0.57},{"l":173,"n":11,"v":0.62},{"l":173,"n":12,"v":0.64},{"l":173,"n":13,"v":0.665},
{"l":174,"n":3,"v":0.09},{"l":174,"n":4,"v":0.57},{"l":174,"n":5,"v":0.62},{"l":174,"n":6,"v":0.65},{"l":174,"n":7,"v":0.655},{"l":174,"n":24,"v":0.67},
{"l":175,"n":0,"v":0.55},{"l":175,"n":1,"v":0.64},{"l":175,"n":2,"v":0.655},{"l":175,"n":3,"v":0.67},{"l":175,"n":24,"v":0.09},{"l":175,"n":25,"v":0.575},
{"l":176,"n":0,"v":0.69},{"l":176,"n":1,"m":3,"v":0.67},{"l":176,"n":21,"v":0.43},{"l":176,"n":22,"v":0.52},{"l":176,"n":23,"v":0.57},{"l":176,"n":24,"v":0.64},{"l":176,"n":25,"v":0.65},{"l":176,"n":26,"v":0.66},
{"l":177,"n":0,"v":0.625},{"l":177,"n":1,"v":0.655},{"l":177,"n":2,"v":0.645},{"l":177,"n":3,"v":0.69},{"l":177,"n":23,"v":0.41},{"l":177,"n":24,"v":0.52},{"l":177,"n":25,"v":0.57},
{"l":178,"n":0,"v":0.575},{"l":178,"n":1,"v":0.61},{"l":178,"n":2,"v":0.64},{"l":178,"n":3,"v":0.66},{"l":178,"n":24,"v":0.37},
{"l":179,"n":0,"v":0.56},{"l":179,"n":1,"v":0.59},{"l":179,"n":2,"v":0.635},{"l":179,"n":3,"v":0.655}
]},"transform":[{"calculate":"datum.l+(datum.h||1)","as":"l2"},{"calculate":"datum.m||datum.n+1","as":"n2"}],"mark":{"type":"rect","strokeWidth":0.7},"encoding":{"x":{"field":"n","type":"quantitative","scale":{"domain":[0,30],"nice":false,"zero":false},"axis":{"title":"Turbulent cascade stage n (adim.)","values":[0,5,10,15,20,25,30],"format":"d","labelFontSize":31,"titleFontSize":44.8,"tickSize":8,"labelPadding":4,"titlePadding":10,"labelFlush":false,"zindex":1}},"x2":{"field":"n2"},"y":{"field":"l","type":"quantitative","scale":{"domain":[180,0],"nice":false,"zero":false},"axis":{"title":"Altitude (m)","values":[180,137.4,94.8,52.2,9.75],"labelExpr":"datum.value==180?'7':datum.value==137.4?'636':datum.value==94.8?'1281':datum.value==52.2?'1910':'2554'","labelFontSize":31,"titleFontSize":46,"tickSize":10,"labelPadding":11,"titlePadding":14,"labelFlush":false,"zindex":1}},"y2":{"field":"l2"},"color":{"field":"v","type":"quantitative","legend":null,"scale":{"domain":[0,0.088,0.1,0.272,0.28,0.3,0.512,0.52,0.528,0.712,0.728,0.8],"range":["#000080","#0000ff","#0000ff","#00dbff","#00e6f7","#15ffe2","#eeff08","#f7f600","#ffec00","#ff1300","#e80000","#800000"],"interpolate":"rgb","clamp":true}},"stroke":{"field":"v","type":"quantitative","legend":null,"scale":{"domain":[0,0.088,0.1,0.272,0.28,0.3,0.512,0.52,0.528,0.712,0.728,0.8],"range":["#000080","#0000ff","#0000ff","#00dbff","#00e6f7","#15ffe2","#eeff08","#f7f600","#ffec00","#ff1300","#e80000","#800000"],"interpolate":"rgb","clamp":true}}}},{"width":81,"height":1606,"data":{"values":[{"c":0},{"c":0.005},{"c":0.01},{"c":0.015},{"c":0.02},{"c":0.025},{"c":0.03},{"c":0.035},{"c":0.04},{"c":0.045},{"c":0.05},{"c":0.055},{"c":0.06},{"c":0.065},{"c":0.07},{"c":0.075},{"c":0.08},{"c":0.085},{"c":0.09},{"c":0.095},{"c":0.1},{"c":0.105},{"c":0.11},{"c":0.115},{"c":0.12},{"c":0.125},{"c":0.13},{"c":0.135},{"c":0.14},{"c":0.145},{"c":0.15},{"c":0.155},{"c":0.16},{"c":0.165},{"c":0.17},{"c":0.175},{"c":0.18},{"c":0.185},{"c":0.19},{"c":0.195},{"c":0.2},{"c":0.205},{"c":0.21},{"c":0.215},{"c":0.22},{"c":0.225},{"c":0.23},{"c":0.235},{"c":0.24},{"c":0.245},{"c":0.25},{"c":0.255},{"c":0.26},{"c":0.265},{"c":0.27},{"c":0.275},{"c":0.28},{"c":0.285},{"c":0.29},{"c":0.295},{"c":0.3},{"c":0.305},{"c":0.31},{"c":0.315},{"c":0.32},{"c":0.325},{"c":0.33},{"c":0.335},{"c":0.34},{"c":0.345},{"c":0.35},{"c":0.355},{"c":0.36},{"c":0.365},{"c":0.37},{"c":0.375},{"c":0.38},{"c":0.385},{"c":0.39},{"c":0.395},{"c":0.4},{"c":0.405},{"c":0.41},{"c":0.415},{"c":0.42},{"c":0.425},{"c":0.43},{"c":0.435},{"c":0.44},{"c":0.445},{"c":0.45},{"c":0.455},{"c":0.46},{"c":0.465},{"c":0.47},{"c":0.475},{"c":0.48},{"c":0.485},{"c":0.49},{"c":0.495},{"c":0.5},{"c":0.505},{"c":0.51},{"c":0.515},{"c":0.52},{"c":0.525},{"c":0.53},{"c":0.535},{"c":0.54},{"c":0.545},{"c":0.55},{"c":0.555},{"c":0.56},{"c":0.565},{"c":0.57},{"c":0.575},{"c":0.58},{"c":0.585},{"c":0.59},{"c":0.595},{"c":0.6},{"c":0.605},{"c":0.61},{"c":0.615},{"c":0.62},{"c":0.625},{"c":0.63},{"c":0.635},{"c":0.64},{"c":0.645},{"c":0.65},{"c":0.655},{"c":0.66},{"c":0.665},{"c":0.67},{"c":0.675},{"c":0.68},{"c":0.685},{"c":0.69},{"c":0.695},{"c":0.7},{"c":0.705},{"c":0.71},{"c":0.715},{"c":0.72},{"c":0.725},{"c":0.73},{"c":0.735},{"c":0.74},{"c":0.745},{"c":0.75},{"c":0.755},{"c":0.76},{"c":0.765},{"c":0.77},{"c":0.775},{"c":0.78},{"c":0.785},{"c":0.79},{"c":0.795}]},"transform":[{"calculate":"datum.c+0.005","as":"c2"}],"mark":{"type":"rect","strokeWidth":0.7},"encoding":{"y":{"field":"c","type":"quantitative","scale":{"domain":[0,0.8],"nice":false,"zero":false},"axis":{"orient":"right","title":"Lyapunov exponent λ (adim.)","values":[0,0.1,0.2,0.3,0.4,0.5,0.6,0.7,0.8],"format":".1f","labelFontSize":52,"titleFontSize":55.5,"titleAngle":90,"titleY":830,"tickSize":9,"labelPadding":26,"titlePadding":14,"labelFlush":false,"labelOverlap":false,"domain":false,"zindex":1}},"y2":{"field":"c2"},"color":{"field":"c","type":"quantitative","legend":null,"scale":{"domain":[0,0.088,0.1,0.272,0.28,0.3,0.512,0.52,0.528,0.712,0.728,0.8],"range":["#000080","#0000ff","#0000ff","#00dbff","#00e6f7","#15ffe2","#eeff08","#f7f600","#ffec00","#ff1300","#e80000","#800000"],"interpolate":"rgb","clamp":true}},"stroke":{"field":"c","type":"quantitative","legend":null,"scale":{"domain":[0,0.088,0.1,0.272,0.28,0.3,0.512,0.52,0.528,0.712,0.728,0.8],"range":["#000080","#0000ff","#0000ff","#00dbff","#00e6f7","#15ffe2","#eeff08","#f7f600","#ffec00","#ff1300","#e80000","#800000"],"interpolate":"rgb","clamp":true}}}}]}
